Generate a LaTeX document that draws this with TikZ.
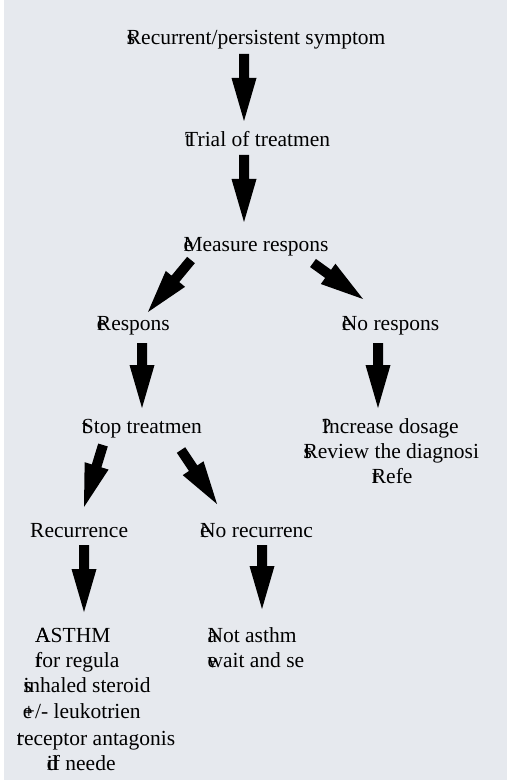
\documentclass[tikz,border=0pt]{standalone}
\usepackage{fontspec}
\setmainfont{Liberation Serif}
\usetikzlibrary{calc}
\definecolor{bgc}{RGB}{230,233,238}
\tikzset{
  lbl/.style={anchor=base west, inner sep=0pt, font=\fontsize{21.5}{25}\selectfont, text=black},
  fat/.style={fill=black}
}
\newcommand\fatarrow[2]{%
  \coordinate (hh) at ($(#2)!43pt!(#1)$);
  \fill[fat] ($(#1)!5pt!90:(#2)$) -- ($(hh)!5pt!90:(#2)$) -- ($(hh)!12.5pt!90:(#2)$)
    -- (#2) -- ($(hh)!12.5pt!-90:(#2)$) -- ($(hh)!5pt!-90:(#2)$) -- ($(#1)!5pt!-90:(#2)$) -- cycle;
}
\begin{document}
\begin{tikzpicture}[x=1pt,y=-1pt]
\useasboundingbox (0,0) rectangle (508,783);
\fill[bgc] (4,0) rectangle (507,780);
% texts
\node[lbl] (t1) at (126.7,45) {\rlap{s}Recurrent/persistent symptom};
\node[lbl] (t2) at (185,147) {\rlap{t}Trial of treatmen};
\node[lbl] (t3) at (183.3,252) {\rlap{e}Measure respons};
\node[lbl] (t4) at (96.7,330) {\rlap{e}Respons};
\node[lbl] (t5) at (341.7,330) {\rlap{e}No respons};
\node[lbl] (t6) at (81.7,433) {\rlap{t}Stop treatmen};
\node[lbl] (t7a) at (321.7,433) {\rlap{?}Increase dosage};
\node[lbl] (t7b) at (303.3,458) {\rlap{s}Review the diagnosi};
\node[lbl] (t7c) at (371.7,483) {\rlap{r}Refe};
\node[lbl] (t8) at (30,537) {Recurrence};
\node[lbl] (t9) at (200,537) {\rlap{e}No recurrenc};
\node[lbl] (t10a) at (35,642) {\rlap{A}ASTHM};
\node[lbl] (t10b) at (35,667) {\rlap{r}for regula};
\node[lbl] (t10c) at (23.3,692) {\rlap{s}inhaled steroid};
\node[lbl] (t10d) at (22.7,718) {\rlap{e}+/- leukotrien};
\node[lbl] (t10e) at (16.7,745) {\rlap{t}receptor antagonis};
\node[lbl] (t10f) at (46.7,770) {\rlap{d}if neede};
\node[lbl] (t11a) at (207.3,642) {\rlap{a}Not asthm};
\node[lbl] (t11b) at (207.3,667) {\rlap{e}wait and se};
% arrow ends
\coordinate (a1s) at (244,54);  \coordinate (a1e) at (244,121);
\coordinate (a2s) at (244,155); \coordinate (a2e) at (244,222);
\coordinate (a3s) at (191,260); \coordinate (a3e) at (148,312);
\coordinate (a4s) at (313,263); \coordinate (a4e) at (363,299);
\coordinate (a5s) at (142,343); \coordinate (a5e) at (142,408);
\coordinate (a6s) at (378,343); \coordinate (a6e) at (378,408);
\coordinate (a7s) at (103,445); \coordinate (a7e) at (84,507);
\coordinate (a8s) at (181,450); \coordinate (a8e) at (217,504);
\coordinate (a9s) at (84,545);  \coordinate (a9e) at (84,612);
\coordinate (a10s) at (262,545); \coordinate (a10e) at (262,609);
\fatarrow{a1s}{a1e}
\fatarrow{a2s}{a2e}
\fatarrow{a3s}{a3e}
\fatarrow{a4s}{a4e}
\fatarrow{a5s}{a5e}
\fatarrow{a6s}{a6e}
\fatarrow{a7s}{a7e}
\fatarrow{a8s}{a8e}
\fatarrow{a9s}{a9e}
\fatarrow{a10s}{a10e}
\end{tikzpicture}
\end{document}
